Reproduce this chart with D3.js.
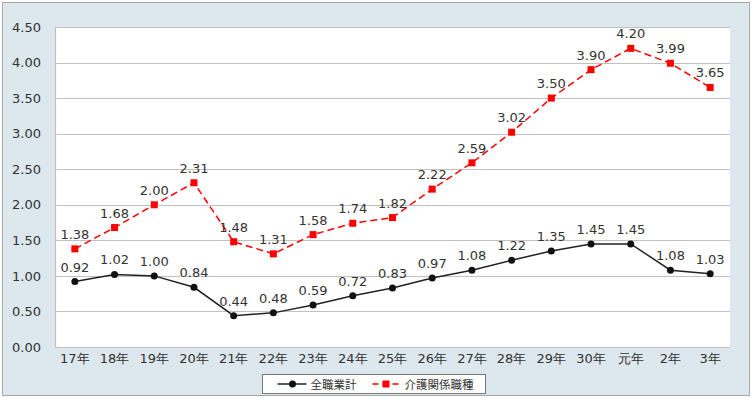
<!DOCTYPE html>
<html>
<head>
<meta charset="utf-8">
<script src="https://cdn.jsdelivr.net/npm/d3@7"></script>
<style>
body { margin: 0; background: #fff; }
svg text { font-family: Verdana, "DejaVu Sans", sans-serif; }
</style>
</head>
<body>
<div id="chart"></div>
<script>
// categories (years)
var years = ["17年", "18年", "19年", "20年", "21年", "22年", "23年", "24年", "25年",
    "26年", "27年", "28年", "29年", "30年", "元年", "2年", "3年"];
// all occupations
var allJobs = [0.92, 1.02, 1.00, 0.84, 0.44, 0.48, 0.59, 0.72, 0.83, 0.97, 1.08, 1.22, 1.35, 1.45, 1.45, 1.08, 1.03];
// care-related occupations
var careJobs = [1.38, 1.68, 2.00, 2.31, 1.48, 1.31, 1.58, 1.74, 1.82, 2.22, 2.59, 3.02, 3.50, 3.90, 4.20, 3.99, 3.65];
var yTicks = [0, 0.5, 1, 1.5, 2, 2.5, 3, 3.5, 4, 4.5];

var width = 752, height = 398;
var margin = {left: 55, right: 22, top: 27, bottom: 51};

var svg = d3.select("#chart").append("svg")
    .attr("width", width)
    .attr("height", height);

// outer background + frame
svg.append("rect")
    .attr("x", 2.5).attr("y", 2.5)
    .attr("width", width - 5).attr("height", height - 5)
    .attr("fill", "#dde7ee")
    .attr("stroke", "#a8a8a8");

var x = d3.scaleBand()
    .domain(years)
    .range([margin.left, width - margin.right]);

var y = d3.scaleLinear()
    .domain([0, 4.5])
    .range([height - margin.bottom, margin.top]);

// plot area
svg.append("rect")
    .attr("x", margin.left)
    .attr("y", margin.top)
    .attr("width", width - margin.left - margin.right)
    .attr("height", height - margin.top - margin.bottom)
    .attr("fill", "#fff");

// gridlines
svg.selectAll(".grid")
    .data(yTicks)
    .enter()
    .append("line")
    .attr("class", "grid")
    .attr("x1", margin.left)
    .attr("x2", width - margin.right)
    .attr("y1", function (d) { return Math.round(y(d)) + 0.5; })
    .attr("y2", function (d) { return Math.round(y(d)) + 0.5; })
    .attr("stroke", "#c4c0bc")
    .attr("stroke-width", 1.2);

// left edge of plot
svg.append("line")
    .attr("x1", margin.left + 0.5).attr("x2", margin.left + 0.5)
    .attr("y1", margin.top).attr("y2", height - margin.bottom)
    .attr("stroke", "#c4c0bc")
    .attr("stroke-width", 1.2);

// y axis
var yAxis = svg.append("g")
    .attr("transform", "translate(" + (margin.left - 11) + ",0)")
    .call(d3.axisLeft(y).tickValues(yTicks).tickSize(0).tickFormat(d3.format(".2f")));
yAxis.select(".domain").remove();
yAxis.selectAll("text")
    .attr("fill", "#333")
    .attr("font-size", "13px");

// x axis
var xAxis = svg.append("g")
    .attr("transform", "translate(0," + (height - margin.bottom + 4) + ")")
    .call(d3.axisBottom(x).tickSize(0));
xAxis.select(".domain").remove();
xAxis.selectAll("text")
    .attr("fill", "#333")
    .attr("font-size", "13px");

var cx = function (d, i) { return x(years[i]) + x.bandwidth() / 2; };

// care line (red dashed)
svg.append("path")
    .datum(careJobs)
    .attr("fill", "none")
    .attr("stroke", "#ff0000")
    .attr("stroke-width", 1.5)
    .attr("stroke-dasharray", "7,4")
    .attr("d", d3.line().x(cx).y(function (d) { return y(d); }));

svg.selectAll(".careMark")
    .data(careJobs)
    .enter()
    .append("rect")
    .attr("x", function (d, i) { return cx(d, i) - 3.5; })
    .attr("y", function (d) { return y(d) - 3.5; })
    .attr("width", 7).attr("height", 7)
    .attr("fill", "#ff0000");

svg.selectAll(".careLabel")
    .data(careJobs)
    .enter()
    .append("text")
    .attr("x", cx)
    .attr("y", function (d) { return y(d) - 10; })
    .attr("text-anchor", "middle")
    .attr("font-size", "13px")
    .attr("fill", "#333")
    .text(function (d) { return d.toFixed(2); });

// all jobs line (black solid)
svg.append("path")
    .datum(allJobs)
    .attr("fill", "none")
    .attr("stroke", "#222")
    .attr("stroke-width", 1.5)
    .attr("d", d3.line().x(cx).y(function (d) { return y(d); }));

svg.selectAll(".allMark")
    .data(allJobs)
    .enter()
    .append("circle")
    .attr("cx", cx)
    .attr("cy", function (d) { return y(d); })
    .attr("r", 3.5)
    .attr("fill", "#111");

svg.selectAll(".allLabel")
    .data(allJobs)
    .enter()
    .append("text")
    .attr("x", cx)
    .attr("y", function (d) { return y(d) - 10; })
    .attr("text-anchor", "middle")
    .attr("font-size", "13px")
    .attr("fill", "#333")
    .text(function (d) { return d.toFixed(2); });

// legend
var legend = svg.append("g").attr("transform", "translate(262.5,374.5)");
legend.append("rect")
    .attr("width", 223).attr("height", 19)
    .attr("fill", "#fff")
    .attr("stroke", "#777");

legend.append("line")
    .attr("x1", 15).attr("x2", 44).attr("y1", 9.5).attr("y2", 9.5)
    .attr("stroke", "#222").attr("stroke-width", 1.5);
legend.append("circle")
    .attr("cx", 30).attr("cy", 9.5).attr("r", 3.5).attr("fill", "#111");
legend.append("text")
    .attr("x", 48).attr("y", 14)
    .attr("font-size", "11.5px").attr("fill", "#333")
    .style("font-family", "'Noto Sans CJK JP', sans-serif")
    .text("全職業計");

legend.append("line")
    .attr("x1", 110).attr("x2", 139).attr("y1", 9.5).attr("y2", 9.5)
    .attr("stroke", "#ff0000").attr("stroke-width", 1.5)
    .attr("stroke-dasharray", "6,4");
legend.append("rect")
    .attr("x", 120).attr("y", 6).attr("width", 7).attr("height", 7)
    .attr("fill", "#ff0000");
legend.append("text")
    .attr("x", 142).attr("y", 14)
    .attr("font-size", "11.5px").attr("fill", "#333")
    .style("font-family", "'Noto Sans CJK JP', sans-serif")
    .text("介護関係職種");
</script>
</body>
</html>
